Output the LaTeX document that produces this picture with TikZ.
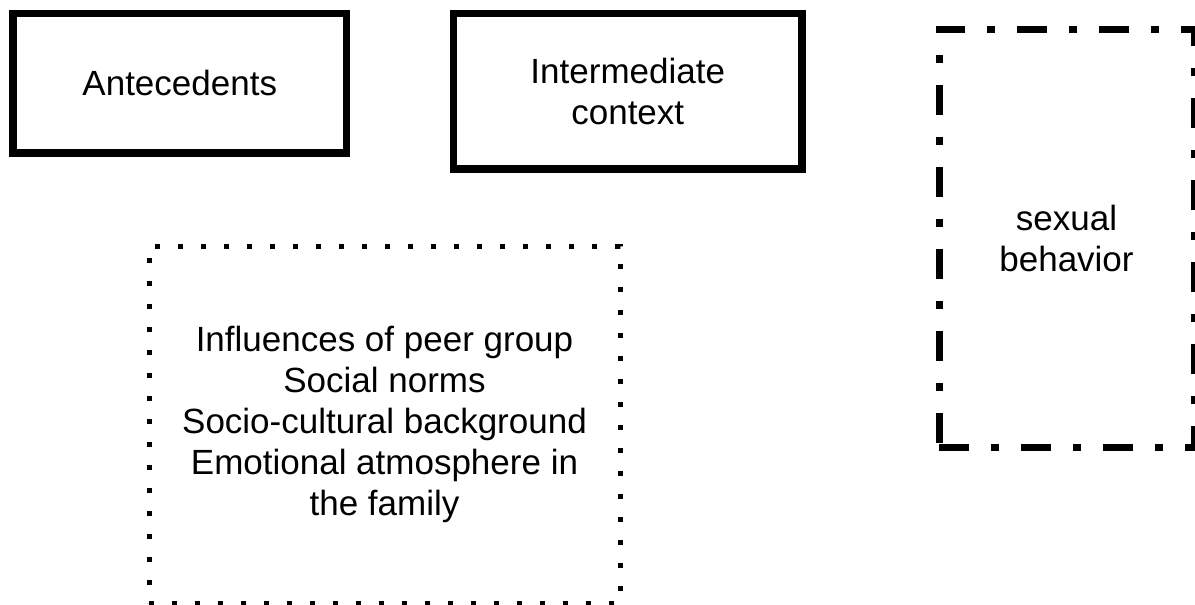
\documentclass[tikz,border=0pt]{standalone}
\usepackage{fontspec}
\setmainfont{Liberation Sans}
\begin{document}
\begin{tikzpicture}[x=1pt,y=-1pt,
  every node/.style={inner sep=0pt, outer sep=0pt, align=center, font=\fontsize{35}{41}\selectfont},
  solidbox/.style={draw=black, line width=7.5pt, rectangle},
  dotbox/.style={draw=black, line width=5pt, dash pattern=on 5pt off 18pt, rectangle},
  dashdotbox/.style={draw=black, line width=7pt, dash pattern=on 30pt off 22pt on 8pt off 22pt, rectangle}]
\useasboundingbox (0,0) rectangle (1195,605);
\node[solidbox, minimum width=333.5pt, minimum height=139.5pt] (ante) at (179.75,83.25) {Antecedents};
\node[solidbox, minimum width=348.5pt, minimum height=155.5pt] (inter) at (627.75,91.25) {Intermediate\\context};
\node[dotbox, minimum width=471pt, minimum height=357pt] (infl) at (384.5,424.5) {Influences of peer group\\Social norms\\Socio-cultural background\\Emotional atmosphere in\\the family};
\node[dashdotbox, minimum width=255pt, minimum height=418pt] (sex) at (1066.5,238) {sexual\\behavior};
\end{tikzpicture}
\end{document}
